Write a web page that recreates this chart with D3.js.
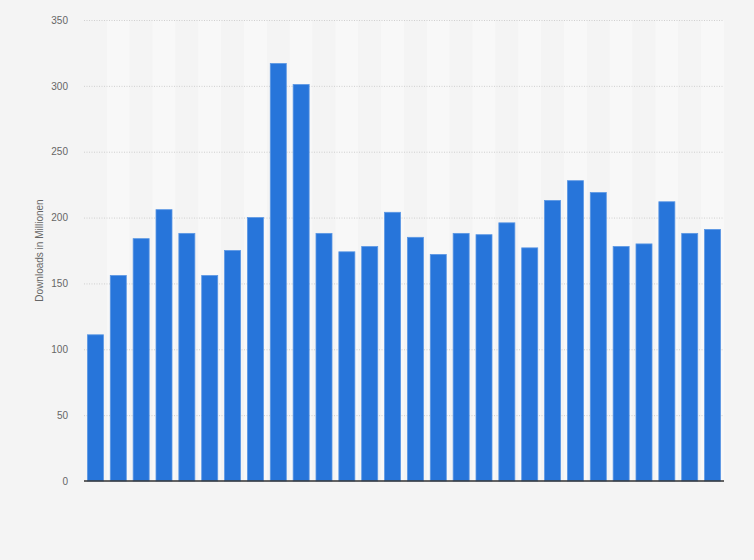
<!DOCTYPE html>
<html><head><meta charset="utf-8">
<script src="https://cdn.jsdelivr.net/npm/d3@7"></script>
<style>
html,body{margin:0;padding:0;background:#f4f4f4;}
svg{display:block;font-family:"Liberation Sans", Arial, sans-serif;}
</style></head>
<body>
<script>
const categories = d3.range(1, 29).map(i => "P" + i);
const values = [111,156,184,206,188,156,175,200,317,301,188,174,178,204,185,172,188,187,196,177,213,228,219,178,180,212,188,191];
const yTicks = [0,50,100,150,200,250,300,350];
const yTitle = "Downloads in Millionen";

const W = 754, H = 560;
const m = {left:84, right:30, top:20, bottom:79};
const svg = d3.select("body").append("svg").attr("width", W).attr("height", H);
svg.append("rect").attr("width", W).attr("height", H).attr("fill", "#f4f4f4");

const x = d3.scaleBand().domain(categories).range([m.left, W - m.right]).paddingInner(0.3).paddingOuter(0.15);
const y = d3.scaleLinear().domain([0, 350]).range([H - m.bottom, m.top]);

// alternating column stripes
const step = x.step();
svg.append("g").selectAll("rect").data(categories).join("rect")
  .attr("x", d => x(d) - x.paddingInner()*step/2)
  .attr("y", m.top)
  .attr("width", step)
  .attr("height", y(0) - m.top)
  .attr("fill", (d,i) => i % 2 === 1 ? "#f8f8f8" : "#f4f4f4");

// grid
const yAxis = d3.axisLeft(y).tickValues(yTicks).tickSize(-(W - m.left - m.right)).tickPadding(16);
const ga = svg.append("g").attr("transform", `translate(${m.left},0)`).call(yAxis);
ga.select(".domain").remove();
ga.selectAll(".tick line").attr("stroke", "#cfcfcf").attr("stroke-dasharray", "1,1.5");
ga.selectAll(".tick text").attr("fill", "#666").attr("font-size", 10);
ga.selectAll(".tick").filter(d => d === 0).select("line").remove();

// bars
svg.append("g").selectAll("rect").data(values).join("rect")
  .attr("x", (d,i) => x(categories[i]))
  .attr("y", d => y(d))
  .attr("width", x.bandwidth())
  .attr("height", d => y(0) - y(d))
  .attr("fill", "#2775da")
  .attr("stroke", "#5b97e4")
  .attr("stroke-width", 0.8);

// baseline
svg.append("line").attr("x1", m.left).attr("x2", W - m.right)
  .attr("y1", y(0)).attr("y2", y(0)).attr("stroke", "#333").attr("stroke-width", 1.3);

// y title
svg.append("text").attr("transform", `translate(43,${(y(0)+m.top)/2}) rotate(-90)`)
  .attr("text-anchor", "middle").attr("fill", "#666").attr("font-size", 10).text(yTitle);
</script>
</body></html>
